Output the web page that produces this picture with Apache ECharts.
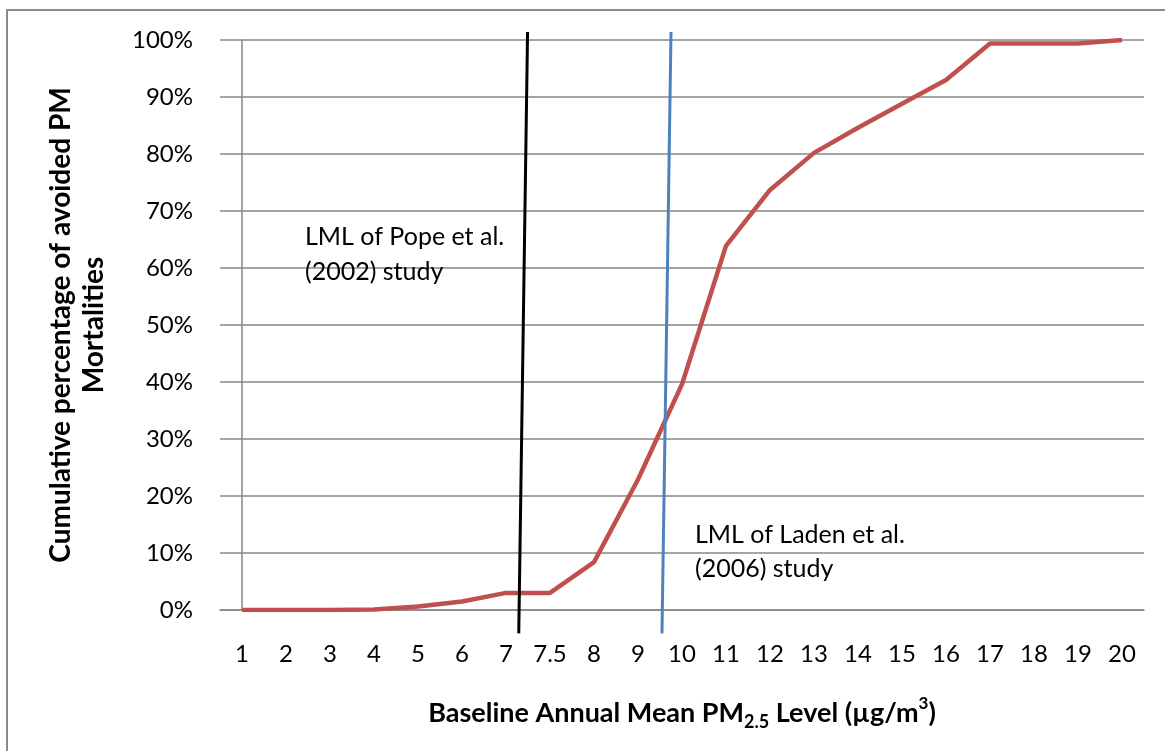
<!DOCTYPE html>
<html>
<head>
<meta charset="utf-8">
<script src="https://cdn.jsdelivr.net/npm/echarts@6/dist/echarts.min.js"></script>
<style>
html,body{margin:0;padding:0;background:#fff;}
#main{width:1165px;height:751px;}
</style>
</head>
<body>
<div id="main"></div>
<script>
// Data
var categories = ['1','2','3','4','5','6','7','7.5','8','9','10','11','12','13','14','15','16','17','18','19','20'];
var cumulativePct = [0,0,0,0.1,0.6,1.5,3.0,3.0,8.4,22.9,39.6,63.9,73.7,80.2,84.6,88.8,93.0,99.4,99.4,99.4,100];
var yTicks = [0,10,20,30,40,50,60,70,80,90,100];
// LML reference lines (x in category-index units, y in percent)
var popeLineX = [6.29, 6.49];
var popeLineY = [-4.1, 101.4];
var ladenLineX = [9.545, 9.75];
var ladenLineY = [-4.1, 101.4];
var popeLabel = 'LML of Pope et al.\n(2002) study';
var ladenLabel = 'LML of Laden et al.\n(2006) study';

var FONT = 'Lato';
var GRID_COLOR = '#878787';

function pairs(xs, ys){ return xs.map(function(x,i){ return [x, ys[i]]; }); }

var chart = echarts.init(document.getElementById('main'), null, {renderer:'canvas'});
chart.setOption({
  animation: false,
  backgroundColor: '#fff',
  grid: {left: 220, right: 21, top: 40, bottom: 141, containLabel: false},
  xAxis: [{
    type: 'category',
    data: categories,
    boundaryGap: true,
    axisLine: {show: true, lineStyle: {color: GRID_COLOR, width: 1.5}},
    axisTick: {show: false},
    axisLabel: {color: '#000', fontFamily: FONT, fontSize: 24, margin: 32, interval: 0},
    name: '{a|Baseline Annual Mean PM}{sub|2.5}{a| Level (µg/m}{sup|3}{a|)}',
    nameLocation: 'middle',
    nameGap: 85,
    nameTextStyle: {
      rich: {
        a: {fontFamily: FONT, fontWeight: 'bold', fontSize: 27, color: '#000', lineHeight: 36},
        sub: {fontFamily: FONT, fontWeight: 'bold', fontSize: 18, color: '#000', lineHeight: 12, verticalAlign: 'bottom'},
        sup: {fontFamily: FONT, fontWeight: 'bold', fontSize: 17, color: '#000', lineHeight: 26, verticalAlign: 'top'}
      }
    }
  }, {
    type: 'value',
    min: -0.5,
    max: 20.5,
    show: false
  }],
  yAxis: {
    type: 'value',
    min: 0,
    max: 100,
    interval: 10,
    axisLine: {show: true, lineStyle: {color: GRID_COLOR, width: 1.5}},
    axisTick: {show: false},
    splitLine: {show: true, lineStyle: {color: GRID_COLOR, width: 1.5}},
    axisLabel: {color: '#000', fontFamily: FONT, fontSize: 24, margin: 27, formatter: '{value}%'},
    name: 'Cumulative percentage of avoided PM\nMortalities',
    nameLocation: 'middle',
    nameRotate: 90,
    nameGap: 110,
    nameTextStyle: {fontFamily: FONT, fontWeight: 'bold', fontSize: 28, color: '#000', lineHeight: 33, align: 'center'}
  },
  series: [{
    type: 'line',
    data: cumulativePct,
    showSymbol: false,
    symbol: 'none',
    lineStyle: {color: '#C0504D', width: 4.5},
    z: 3
  }, {
    type: 'line',
    xAxisIndex: 1,
    data: pairs(popeLineX, popeLineY),
    showSymbol: false,
    symbol: 'none',
    clip: false,
    lineStyle: {color: '#000', width: 3},
    z: 4
  }, {
    type: 'line',
    xAxisIndex: 1,
    data: pairs(ladenLineX, ladenLineY),
    showSymbol: false,
    symbol: 'none',
    clip: false,
    lineStyle: {color: '#4F81BD', width: 3},
    z: 4
  }],
  graphic: [{
    type: 'rect',
    shape: {x: 7, y: 10, width: 1400, height: 1000},
    style: {fill: 'none', stroke: '#8a8a8a', lineWidth: 2},
    silent: true,
    z: 0
  }, {
    type: 'text',
    x: 305, y: 219,
    style: {text: popeLabel, fontFamily: FONT, fontSize: 25, lineHeight: 35, fill: '#000', textVerticalAlign: 'top'},
    z: 10
  }, {
    type: 'text',
    x: 695, y: 518,
    style: {text: ladenLabel, fontFamily: FONT, fontSize: 25, lineHeight: 34, fill: '#000', textVerticalAlign: 'top'},
    z: 10
  }]
});
</script>
</body>
</html>
